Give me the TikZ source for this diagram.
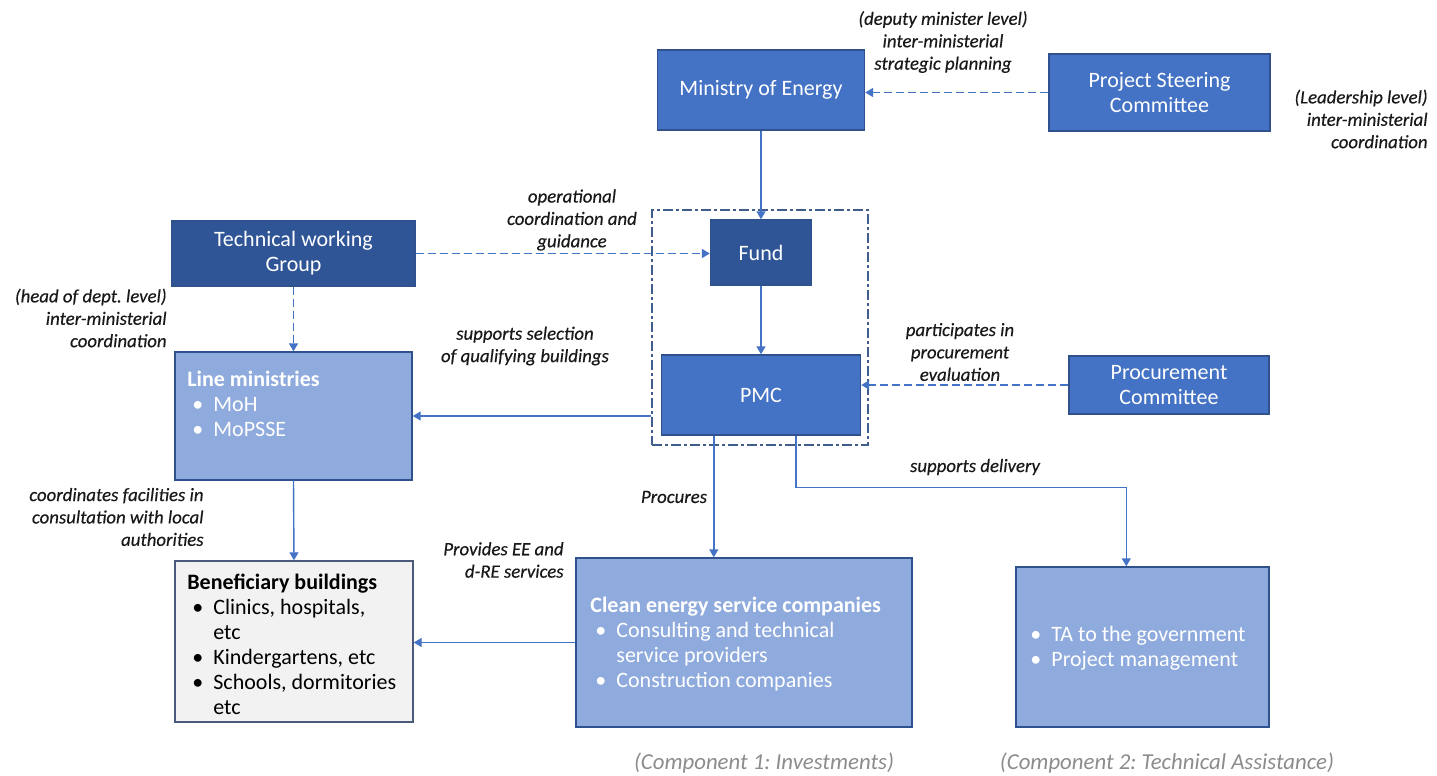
\documentclass[tikz,border=0pt]{standalone}
\usepackage{fontspec}
\setmainfont{Carlito}
\newfontfamily\labfont{Carlito}[FakeBold=0.35]
\usetikzlibrary{arrows.meta,calc}
\definecolor{dblue}{HTML}{2F5597}
\definecolor{mblue}{HTML}{4472C4}
\definecolor{lblue}{HTML}{8FAADC}
\definecolor{edgec}{HTML}{2F528F}
\definecolor{arrc}{HTML}{4472C4}
\definecolor{bbfill}{HTML}{F2F2F2}
\definecolor{bbedge}{HTML}{4A5A78}
\definecolor{grpc}{HTML}{3F5E8C}
\definecolor{capgray}{HTML}{8C8C8C}
\newcommand\bul{\makebox[13pt][l]{\hspace{2.5pt}•}}
\newcommand\cont{\hspace*{13pt}}
\frenchspacing
\begin{document}
\begin{tikzpicture}[x=0.5pt,y=-0.5pt,
  sz/.style 2 args={minimum width=#1*0.5pt, minimum height=#2*0.5pt},
  box/.style={draw=edgec, line width=0.7pt, inner sep=0pt, text=white,
    font=\fontsize{11}{12.5}\selectfont, align=center},
  boxtxt/.style={inner sep=0pt, text=white, align=left,
    font=\fontsize{11}{12.5}\selectfont},
  lab/.style={inner sep=0pt, align=center, text=black!90, font=\labfont\fontsize{9.4}{11.2}\selectfont\itshape},
  captxt/.style={inner sep=0pt, text=capgray, font=\fontsize{11.4}{13}\selectfont\itshape},
  arr/.style={draw=arrc, line width=0.7pt, -{Triangle[length=4pt,width=4.5pt]}},
  darr/.style={arr, line width=0.9pt, dash pattern=on 4pt off 2pt},
  grp/.style={draw=grpc, line width=0.7pt, dash pattern=on 5pt off 1.5pt on 1.5pt off 1.5pt, inner sep=0pt}
]
\useasboundingbox (0,0) rectangle (1437,776);
\fill[white] (0,0) rectangle (1437,776);

% group container
\node[grp, sz={216}{235}] (grp) at (760,327.5) {};

% boxes
\node[box, fill=mblue, sz={207}{80}] (moe) at (761,90) {Ministry of Energy};
\node[box, fill=mblue, sz={221}{77}] (psc) at (1159.5,92.5) {Project Steering\\Committee};
\node[box, fill=dblue, sz={101}{65}] (fund) at (761,252.5) {Fund};
\node[box, fill=mblue, sz={199}{80}] (pmc) at (761,395) {PMC};
\node[box, fill=dblue, sz={243}{65}] (twg) at (293.5,253.5) {Technical working\\Group};
\node[box, fill=lblue, sz={237}{128}] (lm) at (293.5,416) {};
\node[box, fill=bbfill, draw=bbedge, sz={238}{161}] (bb) at (294,641.5) {};
\node[box, fill=lblue, sz={336}{169}] (cesc) at (744,642.5) {};
\node[box, fill=lblue, sz={253}{160}] (ta) at (1142.5,647) {};
\node[box, fill=mblue, sz={200}{58}] (pc) at (1169,385) {Procurement\\Committee};

% box texts
\node[boxtxt, anchor=west] (lmt) at (187,404) {\textbf{Line ministries}\\\bul MoH\\\bul MoPSSE};
\node[boxtxt, anchor=west, text=black] (bbt) at (187,644.5) {\textbf{Beneficiary buildings}\\\bul Clinics, hospitals,\\\cont etc\\\bul Kindergartens, etc\\\bul Schools, dormitories\\\cont etc};
\node[boxtxt, anchor=west] (cesct) at (590,644) {\textbf{Clean energy service companies}\\\bul Consulting and technical\\\cont service providers\\\bul Construction companies};
\node[boxtxt, anchor=west] (tat) at (1025,648.5) {\bul TA to the government\\\bul Project management};

% labels
\node[lab] (l1) at (943,42) {(deputy minister level)\\inter-ministerial\\strategic planning};
\node[lab, anchor=east, align=right] (l2) at (1428,119) {(Leadership level)\\inter-ministerial\\coordination};
\node[lab] (l3) at (572,220) {operational\\coordination and\\guidance};
\node[lab, anchor=east, align=right] (l4) at (167,318) {(head of dept. level)\\inter-ministerial\\coordination};
\node[lab] (l5) at (525,346) {supports selection\\of qualifying buildings};
\node[lab] (l6) at (960,352) {participates in\\procurement\\evaluation};
\node[lab] (l7) at (975,467) {supports delivery};
\node[lab] (l8) at (674,497) {Procures};
\node[lab, anchor=east, align=right] (l9) at (204,517) {coordinates facilities in\\consultation with local\\authorities};
\node[lab, anchor=east, align=right] (l10) at (564,560) {Provides EE and\\d-RE services};
\node[captxt] (c1) at (764,763) {(Component 1: Investments)};
\node[captxt] (c2) at (1167,763) {(Component 2: Technical Assistance)};

% connectors
\draw[darr] (psc.west) -- (moe.east |- psc.west);
\draw[arr] (moe.south) -- (fund.north);
\draw[arr] (fund.south) -- (pmc.north);
\draw[darr] (twg.east) -- (fund.west |- twg.east);
\draw[darr] (twg.south) -- (lm.north);
\draw[darr] (pc.west) -- (pmc.east |- pc.west);
\draw[arr] (grp.west |- lm.east) -- (lm.east);
\draw[arr] (lm.south) -- (bb.north);
\draw[arr] (cesc.west) -- (bb.east |- cesc.west);
\coordinate (p1) at ($(pmc.south west)+(53,0)$);
\coordinate (p2) at ($(pmc.south west)+(135,0)$);
\coordinate (tain) at ($(ta.north west)+(111,0)$);
\draw[arr] (p1) -- (p1 |- cesc.north);
\draw[arr] (p2) -- ++(0,52) -| (tain);
\end{tikzpicture}
\end{document}
